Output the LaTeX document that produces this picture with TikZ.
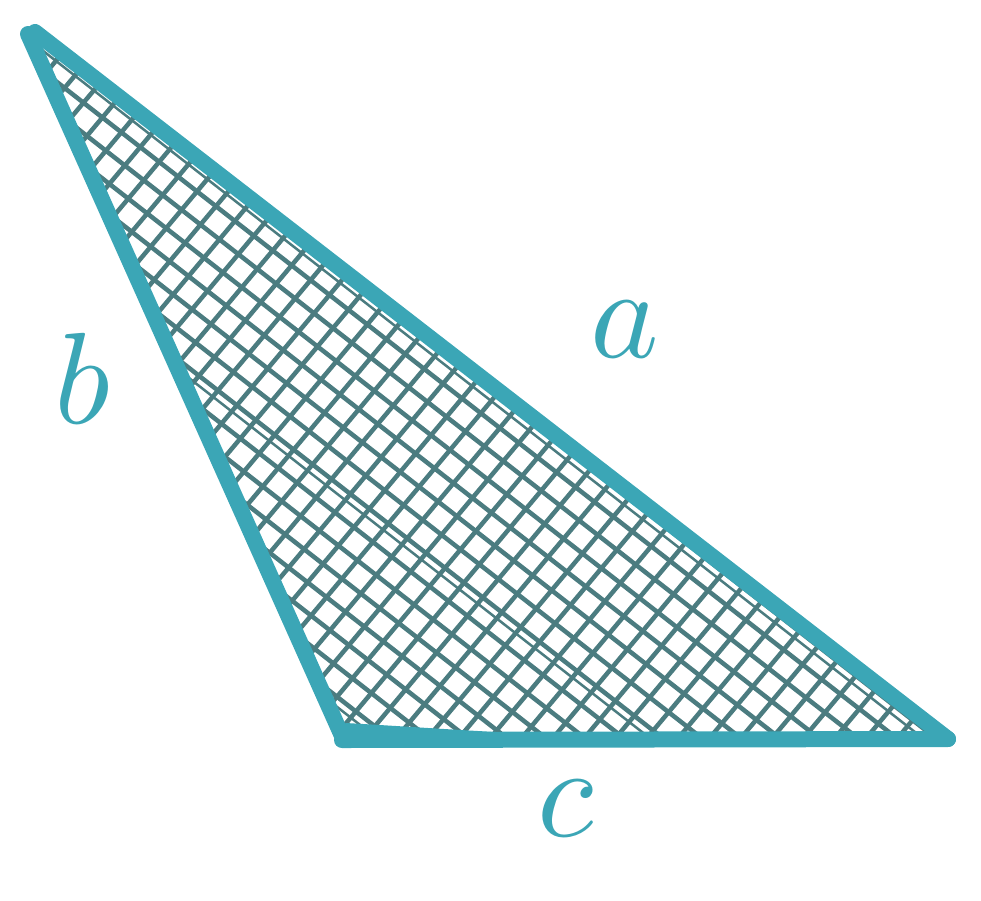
\documentclass[tikz,border=0pt]{standalone}
\usepackage{graphicx}
\begin{document}
\begin{tikzpicture}[x=1pt,y=-1pt,
  edge/.style={draw=tealc,line width=16pt,line cap=round,line join=round},
  hatch/.style={draw=hatchc,line width=4.5pt},
  lbl/.style={text=tealc,inner sep=0pt}]
\definecolor{tealc}{HTML}{3BA6B6}
\definecolor{hatchc}{HTML}{4B7C80}
\useasboundingbox (0,0) rectangle (981,900);
\coordinate (A) at (35,32);
\coordinate (B) at (342,736);
\coordinate (C) at (948,739);
\begin{scope}
\clip (A) -- (B) -- (C) -- cycle;
\foreach \i in {-44,...,44} {
  \draw[hatch] ({450-\i*24*sin(38)-1300*cos(38)},{450+\i*24*cos(38)-1300*sin(38)}) -- ({450-\i*24*sin(38)+1300*cos(38)},{450+\i*24*cos(38)+1300*sin(38)});
  \draw[hatch] ({450+\i*24*sin(50)-1300*cos(50)},{450+\i*24*cos(50)+1300*sin(50)}) -- ({450+\i*24*sin(50)+1300*cos(50)},{450+\i*24*cos(50)-1300*sin(50)});
}
\foreach \i in {-9,-3,4,11} {
  \draw[hatch,line width=2.5pt] ({450-(\i*24+8)*sin(38)-1300*cos(38)},{450+(\i*24+8)*cos(38)-1300*sin(38)}) -- ({450-(\i*24+8)*sin(38)+1300*cos(38)},{450+(\i*24+8)*cos(38)+1300*sin(38)});
}
\end{scope}
\coordinate (A2) at (28,34);
\draw[edge] (A2) -- (B);
\draw[edge] (A) -- (C);
\draw[edge] (342,740) -- (C);
\draw[edge,line width=10pt] (346,728) .. controls (450,734) and (520,740) .. (620,741);
\node[lbl] (la) at (625,330) {\scalebox{13}{$a$}};
\node[lbl] (lb) at (82,378) {\scalebox{13}{$b$}};
\node[lbl] (lc) at (566,808) {\scalebox{13}{$c$}};
\end{tikzpicture}
\end{document}
